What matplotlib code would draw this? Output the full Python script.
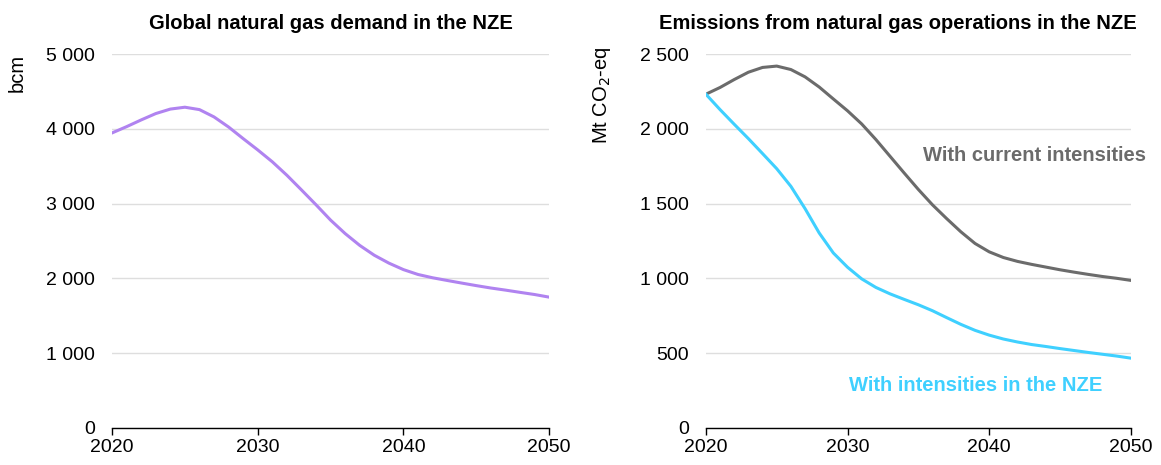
import matplotlib.pyplot as plt

plt.rcParams['font.family'] = ['Liberation Sans', 'DejaVu Sans']

years = list(range(2020, 2051))

# Global natural gas demand in the NZE (bcm)
demand_bcm = [3946, 4030, 4120, 4205, 4265, 4290, 4258, 4160, 4025, 3870,
              3719, 3560, 3380, 3184, 2985, 2780, 2600, 2442, 2310, 2205,
              2118, 2053, 2009, 1973, 1938, 1904, 1872, 1844, 1814, 1785,
              1750]

# Emissions from natural gas operations (Mt CO2-eq)
current_int = [2232, 2277, 2330, 2379, 2411, 2420, 2397, 2348, 2280, 2200,
               2121, 2033, 1929, 1817, 1705, 1595, 1492, 1400, 1312, 1234,
               1178, 1140, 1114, 1094, 1076, 1058, 1042, 1027, 1013, 1001,
               987]
nze_int = [2232, 2129, 2031, 1935, 1835, 1734, 1616, 1467, 1304, 1170,
           1075, 997, 940, 897, 860, 824, 784, 738, 693, 653,
           621, 595, 575, 558, 545, 531, 518, 505, 493, 481,
           467]

x_ticks = [2020, 2030, 2040, 2050]


def fmt_thousands(v):
    return '{:,}'.format(int(v)).replace(',', ' ')


def style_axis(ax, yticks, title, title_x=0.5):
    ax.set_xlim(2020, 2050)
    ax.set_ylim(0, yticks[-1])
    ax.set_xticks(x_ticks)
    ax.set_yticks(yticks)
    ax.set_yticklabels([fmt_thousands(v) for v in yticks])
    ax.grid(axis='y', color='#dedede', linewidth=1.0)
    ax.set_axisbelow(True)
    for s in ['top', 'right', 'left']:
        ax.spines[s].set_visible(False)
    ax.spines['bottom'].set_color('black')
    ax.spines['bottom'].set_linewidth(1.0)
    ax.tick_params(axis='y', length=0, labelsize=14, pad=12)
    ax.tick_params(axis='x', length=5, width=1, labelsize=14, pad=3)
    ax.set_title(title, fontsize=14.5, fontweight='bold', pad=18, x=title_x)


fig = plt.figure(figsize=(11.61, 4.65), dpi=100)
ax1 = fig.add_axes([0.0965, 0.0796, 0.3765, 0.804])
ax2 = fig.add_axes([0.608, 0.0796, 0.366, 0.804])

ax1.plot(years, demand_bcm, color='#b083f0', linewidth=2.2, solid_joinstyle='round')
style_axis(ax1, [0, 1000, 2000, 3000, 4000, 5000], 'Global natural gas demand in the NZE')
ax1.text(-0.216, 1.0, 'bcm', transform=ax1.transAxes, rotation=90,
         ha='center', va='top', fontsize=14.5)

ax2.plot(years, current_int, color='#6b6b6b', linewidth=2.2, solid_joinstyle='round')
ax2.plot(years, nze_int, color='#3fd0ff', linewidth=2.2, solid_joinstyle='round')
style_axis(ax2, [0, 500, 1000, 1500, 2000, 2500],
           'Emissions from natural gas operations in the NZE', title_x=0.452)
ax2.text(-0.245, 1.02, 'Mt CO$_2$-eq', transform=ax2.transAxes, rotation=90,
         ha='center', va='top', fontsize=14.5)

ax2.text(2043.2, 1825, 'With current intensities', color='#6b6b6b',
         fontsize=14.5, fontweight='bold', ha='center', va='center')
ax2.text(2039.05, 281, 'With intensities in the NZE', color='#3fd0ff',
         fontsize=14.5, fontweight='bold', ha='center', va='center')

fig.savefig('out.png', dpi=100)
